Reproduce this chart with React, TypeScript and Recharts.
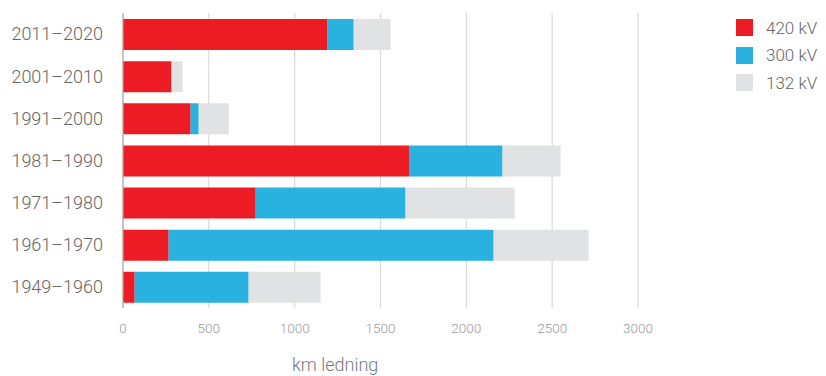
import { BarChart, Bar, XAxis, YAxis, CartesianGrid } from 'recharts';

// Decades, top to bottom
const periods = ['2011–2020', '2001–2010', '1991–2000', '1981–1990', '1971–1980', '1961–1970', '1949–1960'];

// km of line built per voltage level
const kv420 = [1192, 283, 394, 1670, 773, 266, 68];
const kv300 = [152, 0, 47, 541, 873, 1893, 664];
const kv132 = [215, 64, 175, 338, 635, 553, 419];

const xTicks = [0, 500, 1000, 1500, 2000, 2500, 3000];

const SERIES = [
  { key: 'kv420', name: '420 kV', color: '#ED1C24' },
  { key: 'kv300', name: '300 kV', color: '#29B2DF' },
  { key: 'kv132', name: '132 kV', color: '#E1E2E3' },
];

const FONT = 'Roboto, "Liberation Sans", Arial, sans-serif';

const data = periods.map((period, i) => ({
  period,
  kv420: kv420[i],
  kv300: kv300[i],
  kv132: kv132[i],
}));

function LegendBox() {
  return (
    <div style={{ position: 'absolute', left: 736, top: 14, fontFamily: FONT, fontWeight: 300 }}>
      {SERIES.map((s) => (
        <div key={s.key} style={{ display: 'flex', alignItems: 'center', height: 27.5 }}>
          <div style={{ width: 17, height: 17, background: s.color, marginRight: 13 }} />
          <span style={{ fontSize: 17, color: '#666' }}>{s.name}</span>
        </div>
      ))}
    </div>
  );
}

export default function App() {
  return (
    <div style={{ position: 'absolute', left: 0, top: 0, width: 826, height: 376, background: '#fff' }}>
      <BarChart
        width={826}
        height={376}
        data={data}
        layout="vertical"
        barSize={31}
        margin={{ top: 13, right: 188, bottom: 38, left: 0 }}
      >
        <CartesianGrid horizontal={false} stroke="#d9d9d9" strokeWidth={1.2} />
        <XAxis
          type="number"
          domain={[0, 3000]}
          ticks={xTicks}
          axisLine={false}
          tickLine={false}
          height={30}
          tickMargin={9}
          tick={{ fontSize: 13.5, fill: '#999', fontFamily: FONT, fontWeight: 300 }}
        />
        <YAxis
          type="category"
          dataKey="period"
          width={123}
          axisLine={{ stroke: '#aaa', strokeWidth: 1.2 }}
          tickLine={false}
          tickMargin={14}
          tick={{ fontSize: 18, fill: '#666', fontFamily: FONT, fontWeight: 300 }}
        />
        {SERIES.map((s) => (
          <Bar key={s.key} dataKey={s.key} name={s.name} stackId="a" fill={s.color} isAnimationActive={false} />
        ))}
      </BarChart>
      <LegendBox />
      <div
        style={{
          position: 'absolute',
          left: 292,
          top: 354,
          fontSize: 18,
          color: '#777',
          fontFamily: FONT,
          fontWeight: 300,
          whiteSpace: 'nowrap',
        }}
      >
        km ledning
      </div>
    </div>
  );
}
